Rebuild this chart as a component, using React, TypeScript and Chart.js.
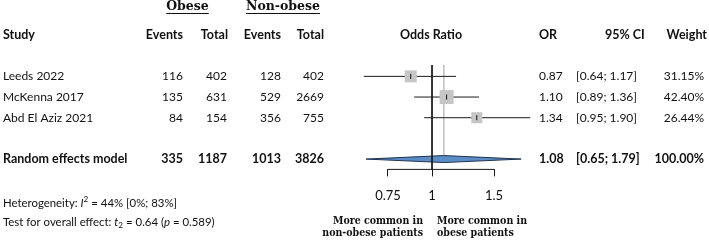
import React, { useEffect, useRef } from 'react';
import { Chart, registerables } from 'chart.js';

Chart.register(...registerables);

// ---- data ----
const studies = ['Leeds 2022', 'McKenna 2017', 'Abd El Aziz 2021'];
const obeseEvents = [116, 135, 84];
const obeseTotal = [402, 631, 154];
const nonObeseEvents = [128, 529, 356];
const nonObeseTotal = [402, 2669, 755];
const oddsRatios = [0.87, 1.1, 1.34];
const ciLower = [0.64, 0.89, 0.95];
const ciUpper = [1.17, 1.36, 1.9];
const weights = [31.15, 42.4, 26.44];

const summaryLabel = 'Random effects model';
const summaryObeseEvents = 335;
const summaryObeseTotal = 1187;
const summaryNonObeseEvents = 1013;
const summaryNonObeseTotal = 3826;
const summaryOR = 1.08;
const summaryLower = 0.65;
const summaryUpper = 1.79;
const summaryWeight = 100;

const axisTicks = [0.75, 1, 1.5];
const studyRows = [0, 1, 2];
const summaryRow = 4;

// ---- styling ----
const SANS = 'Lato, "Open Sans", sans-serif';
const SLAB = '"DejaVu Serif", serif';
const SLAB_COND = '"DejaVu Serif Condensed", "DejaVu Serif", serif';
const TEXT = '#111111';
const Y_MIN = -0.55;
const Y_MAX = 4.5;

const fmt2 = (v: number) => v.toFixed(2);
const ciText = (l: number, u: number) => `[${fmt2(l)}; ${fmt2(u)}]`;
const wText = (w: number) => `${w.toFixed(2)}%`;

type Part = { t: string; i?: boolean; sup?: boolean; sub?: boolean };

function drawRich(ctx: CanvasRenderingContext2D, x: number, y: number, parts: Part[], size: number) {
  let cx = x;
  ctx.textAlign = 'left';
  for (const p of parts) {
    const s = p.sup || p.sub ? size * 0.72 : size;
    ctx.font = `${p.i ? 'italic ' : ''}${s}px ${SANS}`;
    const dy = p.sup ? -4 : p.sub ? 3 : 0;
    ctx.fillText(p.t, cx, y + dy);
    cx += ctx.measureText(p.t).width;
  }
}

const textPlugin = {
  id: 'forestText',
  afterDraw(chart: any) {
    const ctx: CanvasRenderingContext2D = chart.ctx;
    const xs = chart.scales.x;
    const ys = chart.scales.y;
    const X = (v: number) => xs.getPixelForValue(v);
    const Y = (r: number) => ys.getPixelForValue(r);
    const bottom = chart.chartArea.bottom;

    ctx.save();
    ctx.fillStyle = TEXT;
    ctx.strokeStyle = TEXT;
    ctx.textBaseline = 'middle';

    const put = (s: string, x: number, y: number, align: CanvasTextAlign, font: string) => {
      ctx.font = font;
      ctx.textAlign = align;
      ctx.fillText(s, x, y);
    };

    const reg = `12px ${SANS}`;
    const bold = `bold 12.5px ${SANS}`;

    // group headers
    const gy = Y(-3.37);
    const slab = `bold 12.5px ${SLAB}`;
    const groupHeader = (s: string, cx: number) => {
      put(s, cx, gy, 'center', slab);
      const w = ctx.measureText(s).width;
      ctx.lineWidth = 1;
      ctx.beginPath();
      ctx.moveTo(cx - w / 2, Math.round(gy) + 6.5);
      ctx.lineTo(cx + w / 2, Math.round(gy) + 6.5);
      ctx.stroke();
    };
    groupHeader('Obese', 187.5);
    groupHeader('Non-obese', 283);

    // column headers
    const hy = Y(-2.02);
    put('Study', 3, hy, 'left', bold);
    put('Events', 183, hy, 'right', bold);
    put('Total', 228, hy, 'right', bold);
    put('Events', 281, hy, 'right', bold);
    put('Total', 324, hy, 'right', bold);
    put('Odds Ratio', X(1) - 1, hy, 'center', bold);
    put('OR', 539, hy, 'left', bold);
    put('95% CI', 605, hy, 'left', bold);
    put('Weight', 707, hy, 'right', bold);

    // study rows
    studyRows.forEach((r, i) => {
      const y = Y(r);
      put(studies[i], 3, y, 'left', reg);
      put(String(obeseEvents[i]), 183, y, 'right', reg);
      put(String(obeseTotal[i]), 227, y, 'right', reg);
      put(String(nonObeseEvents[i]), 281, y, 'right', reg);
      put(String(nonObeseTotal[i]), 324, y, 'right', reg);
      put(fmt2(oddsRatios[i]), 539, y, 'left', reg);
      put(ciText(ciLower[i], ciUpper[i]), 576, y, 'left', reg);
      put(wText(weights[i]), 704, y, 'right', reg);
    });

    // summary row
    const sy = Y(summaryRow);
    put(summaryLabel, 3, sy, 'left', bold);
    put(String(summaryObeseEvents), 183, sy, 'right', bold);
    put(String(summaryObeseTotal), 227, sy, 'right', bold);
    put(String(summaryNonObeseEvents), 281, sy, 'right', bold);
    put(String(summaryNonObeseTotal), 324, sy, 'right', bold);
    put(fmt2(summaryOR), 539, sy, 'left', bold);
    put(ciText(summaryLower, summaryUpper), 576, sy, 'left', bold);
    put(wText(summaryWeight), 704, sy, 'right', bold);

    // footer statistics
    drawRich(ctx, 3, bottom + 34, [
      { t: 'Heterogeneity: ' },
      { t: 'I', i: true },
      { t: '2', sup: true },
      { t: ' = 44% [0%; 83%]' },
    ], 11.4);
    drawRich(ctx, 3, bottom + 53, [
      { t: 'Test for overall effect: ' },
      { t: 't', i: true },
      { t: '2', sub: true },
      { t: ' = 0.64 (' },
      { t: 'p', i: true },
      { t: ' = 0.589)' },
    ], 11.4);

    // direction labels
    const lab = `bold 10.5px ${SLAB_COND}`;
    put('More common in', X(1) - 9, bottom + 52, 'right', lab);
    put('non-obese patients', X(1) - 9, bottom + 64, 'right', lab);
    put('More common in', X(1) + 5, bottom + 52, 'left', lab);
    put('obese patients', X(1) + 5, bottom + 64, 'left', lab);

    ctx.restore();
  },
};

const boxSide = (w: number) => 14 * Math.sqrt(w / Math.max(...weights));

export default function App() {
  const ref = useRef<HTMLCanvasElement>(null);

  useEffect(() => {
    const canvas = ref.current;
    if (!canvas) return;

    const lineBase = { pointRadius: 0, borderWidth: 1, clip: false as any, tension: 0, fill: false };

    const datasets: any[] = [
      {
        ...lineBase,
        label: 'summary line',
        data: [{ x: summaryOR, y: Y_MIN }, { x: summaryOR, y: summaryRow }],
        borderColor: '#c4c4c4',
        order: 10,
      },
      ...studyRows.map((r, i) => ({
        ...lineBase,
        label: `ci ${i}`,
        data: [{ x: ciLower[i], y: r }, { x: ciUpper[i], y: r }],
        borderColor: '#1a1a1a',
        order: 8,
      })),
      {
        label: 'boxes',
        data: studyRows.map((r, i) => ({ x: oddsRatios[i], y: r })),
        showLine: false,
        clip: false,
        pointStyle: 'rect',
        pointRadius: (c: any) => boxSide(weights[c.dataIndex]) / Math.SQRT2,
        pointBackgroundColor: '#c6c6c6',
        pointBorderWidth: 0,
        order: 6,
      },
      {
        label: 'estimates',
        data: studyRows.map((r, i) => ({ x: oddsRatios[i], y: r })),
        showLine: false,
        clip: false,
        pointStyle: 'line',
        pointRotation: 90,
        pointRadius: 2.5,
        pointBorderColor: '#111',
        pointBorderWidth: 1,
        order: 5,
      },
      {
        label: 'diamond',
        data: [
          { x: summaryLower, y: summaryRow },
          { x: summaryOR, y: summaryRow - 0.17 },
          { x: summaryUpper, y: summaryRow },
          { x: summaryOR, y: summaryRow + 0.17 },
          { x: summaryLower, y: summaryRow },
        ],
        pointRadius: 0,
        borderWidth: 1,
        borderColor: '#1f3550',
        backgroundColor: '#5b8cc6',
        fill: 'shape',
        clip: false,
        tension: 0,
        order: 4,
      },
      {
        ...lineBase,
        label: 'null line',
        data: [{ x: 1, y: Y_MIN }, { x: 1, y: Y_MAX }],
        borderColor: '#1a1a1a',
        order: 3,
      },
      {
        ...lineBase,
        label: 'axis',
        data: [
          { x: axisTicks[0], y: Y_MAX },
          { x: axisTicks[axisTicks.length - 1], y: Y_MAX },
        ],
        borderColor: '#1a1a1a',
        order: 2,
      },
    ];

    const chart = new Chart(canvas, {
      type: 'line',
      data: { datasets },
      options: {
        responsive: false,
        animation: false,
        devicePixelRatio: 1,
        events: [],
        layout: { padding: { left: 360, right: 174, top: 65, bottom: 26 } },
        plugins: {
          legend: { display: false },
          tooltip: { enabled: false },
          title: { display: false },
        },
        scales: {
          x: {
            type: 'logarithmic',
            min: 0.6246,
            max: 1.96,
            bounds: 'data',
            afterBuildTicks: (s: any) => {
              s.ticks = axisTicks.map((v) => ({ value: v }));
            },
            grid: {
              display: true,
              drawOnChartArea: false,
              drawTicks: true,
              tickLength: 7,
              color: '#1a1a1a',
              lineWidth: 1,
            },
            border: { display: false },
            ticks: {
              autoSkip: false,
              maxRotation: 0,
              minRotation: 0,
              padding: 11.5,
              color: TEXT,
              font: { family: SANS, size: 13 },
              callback: (v: any) => String(v),
            },
          },
          y: {
            type: 'linear',
            min: Y_MIN,
            max: Y_MAX,
            reverse: true,
            display: false,
          },
        },
      } as any,
      plugins: [textPlugin],
    });

    return () => chart.destroy();
  }, []);

  return (
    <div style={{ position: 'absolute', left: 0, top: 0, width: 709, height: 241, background: '#fff' }}>
      <canvas ref={ref} width={709} height={241} style={{ display: 'block', width: 709, height: 241 }} />
    </div>
  );
}
